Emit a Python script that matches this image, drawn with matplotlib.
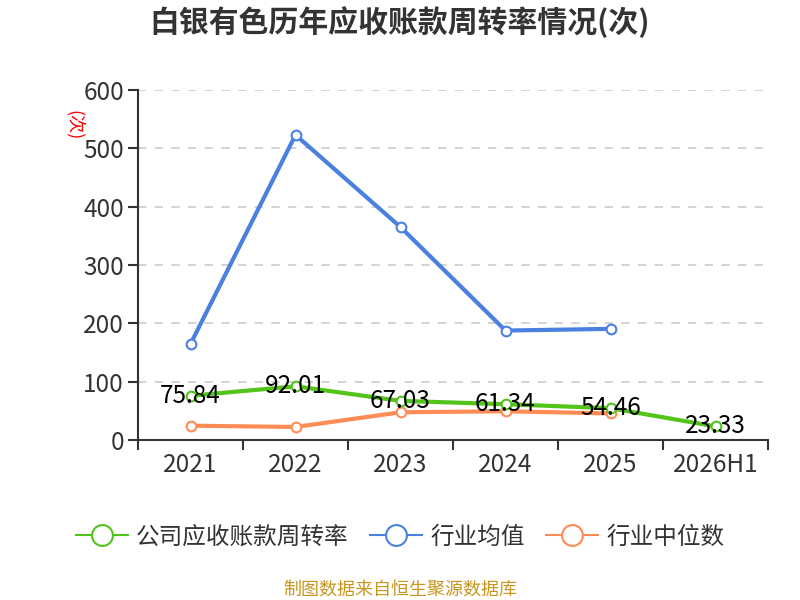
import matplotlib
matplotlib.use("Agg")
import matplotlib.pyplot as plt
from matplotlib.lines import Line2D

plt.rcParams['font.family'] = ['Noto Sans CJK SC', 'DejaVu Sans']

categories = ['2021', '2022', '2023', '2024', '2025', '2026H1']
company = [75.84, 92.01, 67.03, 61.34, 54.46, 23.33]
industry_avg = [164.6, 523.0, 365.0, 187.6, 190.5]
industry_median = [24.5, 22.3, 47.5, 49.2, 45.5]
yticks = [0, 100, 200, 300, 400, 500, 600]

c_green = '#52c41a'
c_blue = '#4a80e0'
c_orange = '#ff8c55'

fig = plt.figure(figsize=(8, 6), dpi=100)
ax = fig.add_axes([0.1725, 0.2667, 0.7875, 0.5833])

x = list(range(len(categories)))
mk = dict(marker='o', markersize=7, markerfacecolor='white', markeredgewidth=1.5)
ax.plot(x[:len(industry_avg)], industry_avg, color=c_blue, lw=3, zorder=3,
        markeredgecolor=c_blue, **mk)
ax.plot(x[:len(industry_median)], industry_median, color=c_orange, lw=3, zorder=3,
        markeredgecolor=c_orange, **mk)
ax.plot(x, company, color=c_green, lw=3, zorder=4, markeredgecolor=c_green, **mk)

for xi, v in zip(x, company):
    ax.text(xi, v, f'{v:.2f}', ha='center', va='center', fontsize=17.5, color='black', zorder=5)

ax.set_xlim(-0.5, len(categories) - 0.5)
ax.set_ylim(0, 600)
ax.set_yticks(yticks)
ax.set_yticklabels([str(t) for t in yticks], fontsize=17.5, color='#333333')
ax.set_xticks(x)
ax.set_xticklabels(categories, fontsize=17.5, color='#333333')
ax.set_xticks([i - 0.5 for i in range(len(categories) + 1)], minor=True)
ax.tick_params(axis='x', which='major', length=0, pad=9)
ax.tick_params(axis='x', which='minor', length=7, width=1.5, color='#333333')
ax.tick_params(axis='y', length=7, width=1.5, color='#333333', pad=3)
ax.grid(axis='y', linestyle=(0, (5, 5)), color='#cccccc', lw=1.2)
for s in ['top', 'right']:
    ax.spines[s].set_visible(False)
for s in ['left', 'bottom']:
    ax.spines[s].set_color('#333333')
    ax.spines[s].set_linewidth(1.5)

fig.text(0.5, 0.963, '白银有色历年应收账款周转率情况(次)', ha='center', va='center',
         fontsize=21.5, fontweight='bold', color='#333333')
fig.text(0.093, 0.792, '(次)', rotation=-90, ha='center', va='center', fontsize=13, color='red')

handles = [
    Line2D([0], [0], color=c, lw=1.5, marker='o', markersize=15,
           markerfacecolor='white', markeredgecolor=c, markeredgewidth=1.5)
    for c in (c_green, c_blue, c_orange)
]
fig.legend(handles, ['公司应收账款周转率', '行业均值', '行业中位数'], loc='center',
           bbox_to_anchor=(0.5, 0.105), ncol=3, frameon=False, fontsize=17,
           handlelength=2.2, handletextpad=0.35, columnspacing=0.9, labelcolor='#333333')

fig.text(0.5, 0.018, '制图数据来自恒生聚源数据库', ha='center', va='center',
         fontsize=13, color='#c8961e')

fig.savefig('out.png', dpi=100)
